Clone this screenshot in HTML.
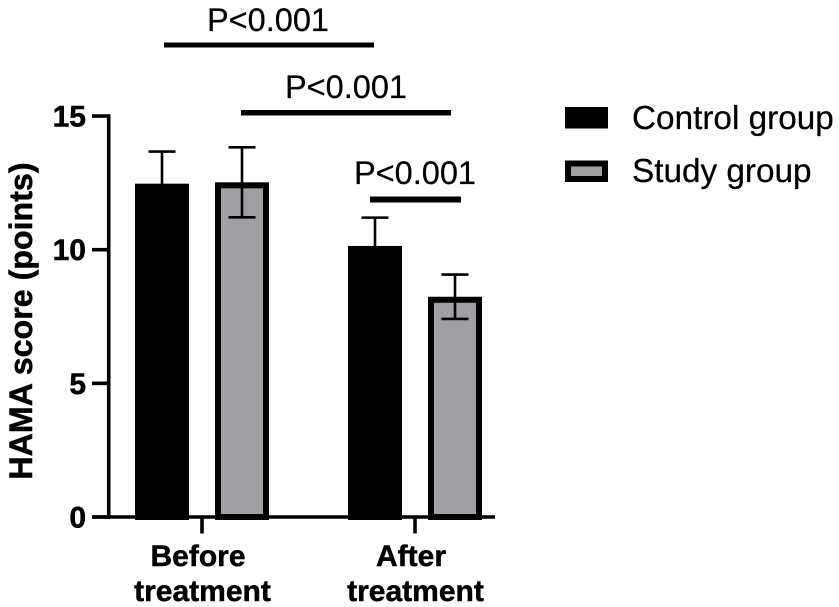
<!DOCTYPE html>
<html>
<head>
<meta charset="utf-8">
<title>HAMA score chart</title>
<style>
html,body{margin:0;padding:0;background:#fff;width:839px;height:607px;overflow:hidden}
svg{display:block;font-family:"Liberation Sans",sans-serif;fill:#000}
.tick{font-weight:bold;font-size:30px;stroke:#000;stroke-width:.5px}
.cat{font-weight:bold;font-size:30px;text-anchor:middle;stroke:#000;stroke-width:.5px}
.sig{font-size:32.5px;text-anchor:middle;stroke:#000;stroke-width:.25px}
.leg{font-size:33.3px;stroke:#000;stroke-width:.25px}
</style>
</head>
<body>
<svg id="chart" width="839" height="607" viewBox="0 0 839 607">
  <text transform="translate(32 321) rotate(-90)" text-anchor="middle" font-weight="bold" font-size="32.2" stroke="#000" stroke-width=".5">HAMA score (points)</text>
  <g id="plot"></g>
  <g>
    <text class="sig" x="268" y="31">P&lt;0.001</text>
    <rect x="164" y="42.5" width="210" height="5"/>
  </g>
  <g>
    <text class="sig" x="346" y="98">P&lt;0.001</text>
    <rect x="241" y="110" width="210" height="5.5"/>
  </g>
  <g>
    <text class="sig" x="415" y="184">P&lt;0.001</text>
    <rect x="370" y="196.5" width="91" height="6"/>
  </g>
  <g>
    <rect x="565" y="107" width="43" height="21.5" fill="#000"/>
    <text class="leg" x="632" y="129">Control group</text>
    <rect x="568" y="163.5" width="37" height="15.5" fill="#a0a0a4" stroke="#000" stroke-width="6"/>
    <text class="leg" x="632" y="182">Study group</text>
  </g>
</svg>
<script>
const categories = [["Before", "treatment"], ["After", "treatment"]];
const seriesNames = ["Control group", "Study group"];
const controlMeans = [12.47, 10.14];
const studyMeans = [12.52, 8.24];
const controlErrors = [1.2, 1.06];
const studyErrors = [1.31, 0.83];
const yTicks = [0, 5, 10, 15];

const NS = "http://www.w3.org/2000/svg";
const plot = document.getElementById("plot");
const Y0 = 517, YPX = 26.73;
const yScale = function (v) { return Y0 - v * YPX; };
const catScale = function (i) { return 202 + i * 213; };
const BAR_W = 54, OFFSET = 40, CAP = 13.5;

function make(tag, attrs, parent) {
  const el = document.createElementNS(NS, tag);
  for (const k in attrs) el.setAttribute(k, attrs[k]);
  (parent || plot).appendChild(el);
  return el;
}

function drawBar(i, s, mean, err) {
  const cx = catScale(i) + (s === 0 ? -OFFSET : OFFSET);
  const top = yScale(mean);
  const isStudy = s === 1;
  const bar = make("rect", {
    x: cx - BAR_W / 2 + 3,
    y: top + 3,
    width: BAR_W - 6,
    height: Math.max(0, Y0 - top - 3),
    fill: isStudy ? "#a0a0a4" : "#000",
    stroke: "#000",
    "stroke-width": 6
  });
  
  

  const hi = yScale(mean + err), lo = yScale(mean - err);
  const whisker = make("path", {
    d: "M" + cx + " " + hi + "V" + lo + "M" + (cx - CAP) + " " + hi + "H" + (cx + CAP) + "M" + (cx - CAP) + " " + lo + "H" + (cx + CAP),
    fill: "none",
    stroke: "#000",
    "stroke-width": 2.6
  });
  
  
}

categories.forEach(function (c, i) {
  drawBar(i, 0, controlMeans[i], controlErrors[i]);
  drawBar(i, 1, studyMeans[i], studyErrors[i]);
});

const yAxis = make("line", { x1: 108.7, x2: 108.7, y1: yScale(15) - 1.8, y2: Y0 + 1.8, stroke: "#000", "stroke-width": 3.6 });



const xAxis = make("line", { x1: 92, x2: 495, y1: Y0, y2: Y0, stroke: "#000", "stroke-width": 3.6 });



yTicks.forEach(function (t) {
  const mark = make("line", { x1: 92, x2: 108, y1: yScale(t), y2: yScale(t), stroke: "#000", "stroke-width": 3.6 });
  
  
  const label = make("text", { x: 86, y: yScale(t) + 10.5, "text-anchor": "end", class: "tick" });
  
  
  label.textContent = t;
});

categories.forEach(function (c, i) {
  const cx = catScale(i);
  const mark = make("line", { x1: cx, x2: cx, y1: Y0, y2: 533.5, stroke: "#000", "stroke-width": 3.6 });
  
  
  c.forEach(function (line, j) {
    const label = make("text", { x: j === 0 ? cx - 4 : cx + 0.5, y: 566 + j * 35, class: "cat" });
    
    
    label.textContent = line;
  });
});
</script>
</body>
</html>
